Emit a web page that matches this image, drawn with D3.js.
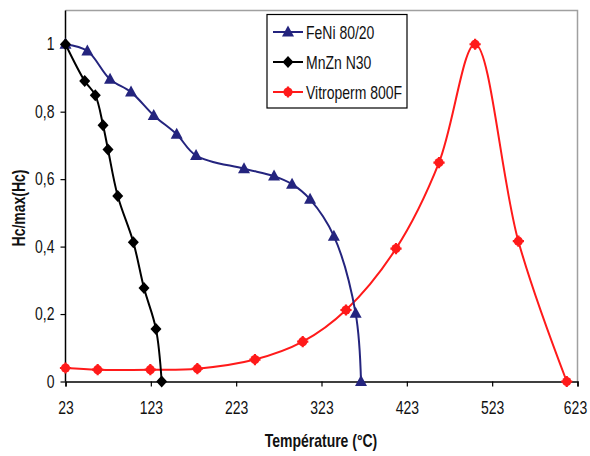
<!DOCTYPE html>
<html><head><meta charset="utf-8">
<script src="https://cdn.jsdelivr.net/npm/d3@7"></script>
<style>
body{margin:0;background:#fff;}
text{font-family:"Liberation Sans",Arial,sans-serif;}
</style></head>
<body><svg id="c" width="590" height="456"></svg>
<script>
const xTicks = [23,123,223,323,423,523,623];
const yTicks = [0,0.2,0.4,0.6,0.8,1];
const seriesNames = ["FeNi 80/20","MnZn N30","Vitroperm 800F"];
const feniT = [23,48.6,75.2,99.8,126.4,153.3,176,232.2,267.4,288.5,309.6,337.5,363,369.3];
const feniV = [1.0,0.98,0.896,0.858,0.789,0.733,0.67,0.631,0.609,0.585,0.54,0.431,0.202,0];
const mnznT = [23,45.5,57.9,67,72.8,84.2,102.5,115,129,135.7];
const mnznV = [1.0,0.891,0.849,0.76,0.688,0.55,0.413,0.277,0.156,0];
const vitT = [23,60.7,122.4,177.5,245,301,351.7,410.3,460.7,503,553.7,610.4];
const vitV = [0.04,0.035,0.035,0.038,0.065,0.118,0.212,0.394,0.649,1.0,0.416,0];

const svg = d3.select("#c");
const x = d3.scaleLinear().domain([23,623]).range([65.5,577.5]);
const y = d3.scaleLinear().domain([0,1.1]).range([381.5,10.5]);
const K = 0.8; // horizontal condensing of the narrow face

svg.append("path").attr("d",`M${x(23)},${y(1.1)}H${x(623)}V${y(0)}`)
  .attr("fill","none").attr("stroke","#a0a0a0").attr("stroke-width",1.5);

const fs = 17.5;
const fmt = d => d===0?"0":d===1?"1":String(d).replace(".",",");
const gy = svg.append("g").attr("transform",`translate(${x(23)},0)`)
  .call(d3.axisLeft(y).tickValues(yTicks).tickSize(5).tickPadding(6).tickFormat(fmt));
const gx = svg.append("g").attr("transform",`translate(0,${y(0)})`)
  .call(d3.axisBottom(x).tickValues(xTicks).tickSize(5).tickPadding(15).tickFormat(d3.format("d")));
[gx,gy].forEach(g=>{
  g.select(".domain").attr("stroke","#000").attr("stroke-width",1.5);
  g.selectAll(".tick line").attr("stroke","#000").attr("stroke-width",1.2);
  g.selectAll(".tick text").attr("font-size",fs).attr("fill","#111")
   .style("font-family",'"Liberation Sans",Arial,sans-serif')
   .attr("transform",`scale(${K},1)`);
});
gy.selectAll(".tick text").attr("x",-11/K);
gx.selectAll(".tick text").filter(d=>d===623).attr("x",-2.5/K);
gy.select(".domain").attr("d",`M0,${y(1.1)}V${y(0)}`);

svg.append("text").attr("transform",`translate(321,447) scale(${K},1)`).attr("text-anchor","middle")
  .attr("font-size",fs).attr("font-weight","bold").attr("fill","#111").text("Température (°C)");
svg.append("text").attr("transform",`translate(25,208) rotate(-90) scale(${K},1)`).attr("text-anchor","middle")
  .attr("font-size",fs).attr("font-weight","bold").attr("fill","#111").text("Hc/max(Hc)");

const colors = ["#24247e","#000000","#ff1a1a"];
const series = [
  {t:feniT,v:feniV,c:colors[0],m:"tri"},
  {t:mnznT,v:mnznV,c:colors[1],m:"dia"},
  {t:vitT,v:vitV,c:colors[2],m:"cir"}
];
const line = d3.line().x(d=>x(d[0])).y(d=>y(d[1])).curve(d3.curveCatmullRom.alpha(0.5));

function marker(g,type,c,px,py){
  if(type==="tri"){
    g.append("path").attr("d",`M${px},${py-6.5}L${px+6},${py+4.5}L${px-6},${py+4.5}Z`).attr("fill",c);
  } else if(type==="dia"){
    g.append("path").attr("d",`M${px},${py-6}L${px+5.5},${py}L${px},${py+6}L${px-5.5},${py}Z`).attr("fill",c);
  } else {
    g.append("circle").attr("cx",px).attr("cy",py).attr("r",4.6).attr("fill",c);
    g.append("path").attr("d",`M${px-5.6},${py}H${px+5.6}M${px},${py-5.6}V${py+5.6}`).attr("stroke",c).attr("stroke-width",2.2);
  }
}

[series[2],series[0],series[1]].forEach(s=>{
  const pts = s.t.map((t,i)=>[t,s.v[i]]);
  svg.append("path").attr("d",line(pts)).attr("fill","none").attr("stroke",s.c).attr("stroke-width",2);
  const g = svg.append("g");
  pts.forEach(p=>marker(g,s.m,s.c,x(p[0]),y(p[1])));
});

const lg = svg.append("g");
lg.append("rect").attr("x",267).attr("y",14.5).attr("width",140).attr("height",93.5)
  .attr("fill","#fff").attr("stroke","#000").attr("stroke-width",1.2);
series.forEach((s,i)=>{
  const ly = 32 + i*30;
  lg.append("line").attr("x1",273).attr("x2",303).attr("y1",ly).attr("y2",ly).attr("stroke",s.c).attr("stroke-width",2);
  marker(lg,s.m,s.c,288,ly);
  lg.append("text").attr("transform",`translate(306,${ly+6.5}) scale(${K},1)`)
    .attr("font-size",fs).attr("fill","#111").text(seriesNames[i]);
});
</script></body></html>
